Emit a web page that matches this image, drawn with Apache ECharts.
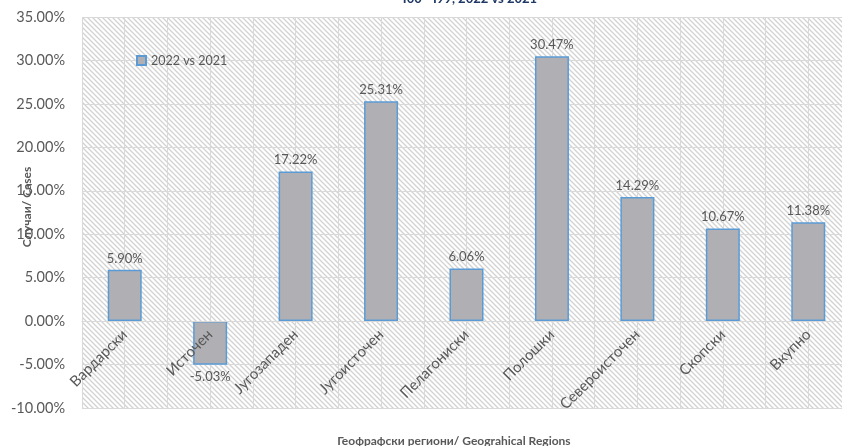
<!DOCTYPE html>
<html>
<head>
<meta charset="utf-8">
<script src="https://cdn.jsdelivr.net/npm/echarts@6/dist/echarts.min.js"></script>
<style>
  html, body { margin: 0; padding: 0; background: #fff; }
  #chart { width: 842px; height: 446px; }
</style>
</head>
<body>
<div id="chart"></div>
<script>
// регионите и промената 2022 vs 2021 (%)
const regions = ['Вардарски', 'Источен', 'Југозападен', 'Југоисточен', 'Пелагониски', 'Полошки', 'Североисточен', 'Скопски', 'Вкупно']
const change = [5.90, -5.03, 17.22, 25.31, 6.06, 30.47, 14.29, 10.67, 11.38]
const seriesName = '2022 vs 2021'
const yTicks = { min: -10, max: 35, step: 5 }

const FONT = 'Lato, "Open Sans", sans-serif'
const GREY = '#595959'

// hatch pattern for the plot area
const makeHatch = () => {
  const c = document.createElement('canvas')
  c.width = 5; c.height = 5
  const g = c.getContext('2d')
  g.fillStyle = '#ffffff'
  g.fillRect(0, 0, 5, 5)
  g.strokeStyle = '#d2d2d2'
  g.lineWidth = 1.3
  g.beginPath()
  g.moveTo(-1, -1); g.lineTo(6, 6)
  g.moveTo(-6, -1); g.lineTo(1, 6)
  g.moveTo(4, -1); g.lineTo(11, 6)
  g.stroke()
  return c
}

const H = 446
const gridBox = { left: 82, right: -9, top: 17, bottom: 38, outerBoundsMode: 'none', containLabel: false }
// lift the category axis up to the 0% line (onZero isn't applied here)
const plotH = H - gridBox.top - gridBox.bottom
const zeroLift = plotH * (0 - yTicks.min) / (yTicks.max - yTicks.min)

const chart = echarts.init(document.getElementById('chart'), null, { renderer: 'canvas' })

chart.setOption({
  backgroundColor: '#fff',
  textStyle: { fontFamily: FONT },
  grid: [
    { ...gridBox, show: true, borderWidth: 0, backgroundColor: { image: makeHatch(), repeat: 'repeat' } },
    { ...gridBox, show: false },
  ],
  legend: {
    left: 131, top: 49,
    itemWidth: 9, itemHeight: 9, itemGap: 4,
    icon: 'rect',
    textStyle: { color: GREY, fontSize: 12.5, fontFamily: FONT },
    data: [seriesName],
  },
  xAxis: [
    {
      gridIndex: 0,
      type: 'category', data: regions,
      offset: -zeroLift,
      axisLine: { onZero: false, lineStyle: { color: '#d9d9d9', width: 1 } },
      axisTick: { show: false },
      splitLine: { show: false },
      axisLabel: { rotate: 45, margin: 11, color: GREY, fontSize: 15, fontFamily: FONT, interval: 0 },
      z: 6,
    },
    {
      // half-category vertical gridlines
      gridIndex: 1,
      type: 'value', min: 0, max: regions.length * 2, interval: 1,
      axisLine: { show: false }, axisTick: { show: false }, axisLabel: { show: false },
      splitLine: { show: true, lineStyle: { color: '#d9d9d9', width: 1 } },
    },
  ],
  yAxis: [
    {
      gridIndex: 0,
      type: 'value', min: yTicks.min, max: yTicks.max, interval: yTicks.step,
      axisLine: { show: false }, axisTick: { show: false },
      splitLine: { lineStyle: { color: '#d9d9d9', width: 1 } },
      axisLabel: { color: GREY, fontSize: 14.5, fontFamily: FONT, margin: 17, formatter: v => v.toFixed(2) + '%' },
    },
    {
      gridIndex: 1, type: 'value', min: 0, max: 1, show: false,
    },
  ],
  series: [{
    name: seriesName,
    type: 'bar',
    xAxisIndex: 0, yAxisIndex: 0,
    barWidth: 34,
    z: 3,
    itemStyle: { color: '#b0b0b4', borderColor: '#5b9bd5', borderWidth: 1.5 },
    label: { show: true, color: GREY, fontSize: 13, fontFamily: FONT, distance: 5, formatter: p => p.value.toFixed(2) + '%' },
    data: change.map(v => ({ value: v, label: { position: v < 0 ? 'bottom' : 'top' } })),
  }],
  graphic: [
    {
      type: 'text', x: 470, y: -1,
      style: { text: 'I00 - I99, 2022 vs 2021', fill: '#1f3864', font: 'bold 13px ' + FONT, textAlign: 'center', textVerticalAlign: 'middle' },
    },
    {
      type: 'text', x: 27, y: 207, rotation: Math.PI / 2,
      style: { text: 'Случаи/ Cases', fill: GREY, font: 'bold 12px ' + FONT, textAlign: 'center', textVerticalAlign: 'middle' },
    },
    {
      type: 'text', x: 454, y: 441,
      style: { text: 'Геофрафски региони/ Geograhical Regions', fill: GREY, font: 'bold 12px ' + FONT, textAlign: 'center', textVerticalAlign: 'middle' },
    },
  ],
})
</script>
</body>
</html>
